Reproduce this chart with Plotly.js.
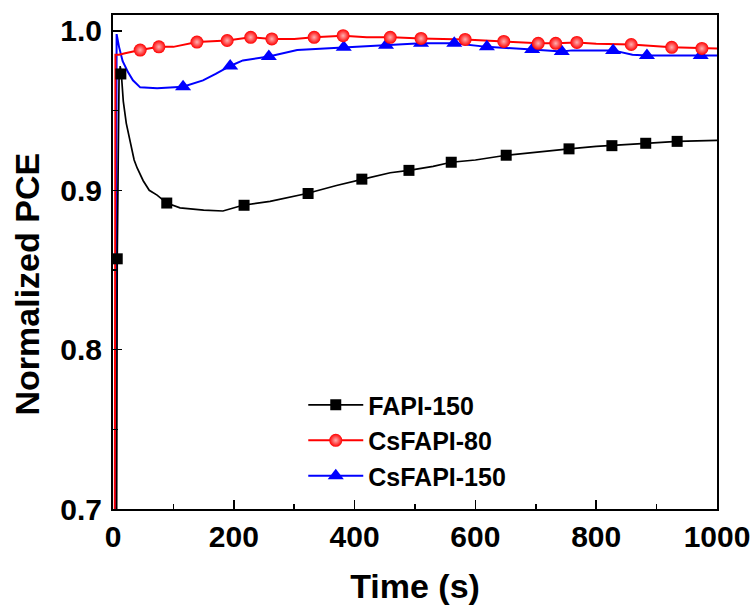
<!DOCTYPE html>
<html>
<head>
<meta charset="utf-8">
<script src="https://cdn.plot.ly/plotly-3.0.1.min.js"></script>
<style>html,body{margin:0;padding:0;background:#fff;}#chart{width:753px;height:607px;}</style>
</head>
<body>
<div id="chart"></div>
<script>
// ---- Data ----
var seriesNames = ["FAPI-150", "CsFAPI-80", "CsFAPI-150"];
var xTitle = "Time (s)";
var yTitle = "Normalized PCE";

// FAPI-150 (black) continuous curve
var fapiT = [6, 7, 10, 12, 14, 17, 22, 28, 35, 40, 50, 60, 73, 89, 111, 150, 182, 215, 260, 321, 370, 414, 459, 490, 530, 560, 600, 651, 700, 755, 800, 826, 882, 934, 1000];
var fapiV = [0.69, 0.857, 0.970, 0.978, 0.972, 0.956, 0.942, 0.931, 0.919, 0.914, 0.906, 0.900, 0.897, 0.892, 0.889, 0.8875, 0.887, 0.8906, 0.893, 0.898, 0.903, 0.907, 0.911, 0.9125, 0.915, 0.9176, 0.919, 0.922, 0.924, 0.926, 0.9275, 0.928, 0.9295, 0.9307, 0.9313];
// FAPI-150 symbols
var fapiMarkT = [7, 13, 89, 217, 323, 412, 490, 560, 651, 755, 826, 882, 934];
var fapiMarkV = [0.857, 0.973, 0.892, 0.8906, 0.898, 0.907, 0.9125, 0.9176, 0.922, 0.926, 0.928, 0.9295, 0.9307];

// CsFAPI-80 (red) continuous curve
var cs80T = [3, 4, 10, 20, 45, 76, 100, 139, 189, 228, 263, 300, 333, 381, 420, 462, 510, 583, 647, 704, 733, 768, 800, 858, 925, 975, 1000];
var cs80V = [0.69, 0.985, 0.985, 0.986, 0.988, 0.990, 0.990, 0.993, 0.994, 0.996, 0.995, 0.995, 0.996, 0.997, 0.996, 0.996, 0.9953, 0.9947, 0.9934, 0.9922, 0.9922, 0.9928, 0.992, 0.9915, 0.9897, 0.989, 0.989];
// CsFAPI-80 symbols
var cs80MarkT = [45, 76, 139, 189, 228, 263, 333, 381, 459, 510, 583, 647, 704, 733, 768, 858, 925, 975];
var cs80MarkV = [0.988, 0.990, 0.993, 0.994, 0.996, 0.995, 0.996, 0.997, 0.996, 0.9953, 0.9947, 0.9934, 0.9922, 0.9922, 0.9928, 0.9915, 0.9897, 0.989];

// CsFAPI-150 (blue) continuous curve
var cs150T = [4, 6, 10, 16, 25, 33, 45, 73, 116, 149, 170, 194, 215, 258, 305, 382, 452, 510, 565, 619, 694, 743, 760, 828, 860, 884, 973, 1000];
var cs150V = [0.69, 0.998, 0.990, 0.981, 0.974, 0.969, 0.9646, 0.964, 0.965, 0.969, 0.973, 0.978, 0.9815, 0.984, 0.988, 0.9897, 0.991, 0.9922, 0.9922, 0.990, 0.9884, 0.9871, 0.9878, 0.9878, 0.985, 0.9846, 0.9846, 0.9846];
// CsFAPI-150 symbols
var cs150MarkT = [116, 194, 258, 382, 452, 510, 565, 619, 694, 743, 828, 884, 973];
var cs150MarkV = [0.965, 0.978, 0.984, 0.9897, 0.991, 0.9922, 0.9922, 0.990, 0.9884, 0.9871, 0.9878, 0.9846, 0.9846];

var xTickVals = [0, 200, 400, 600, 800, 1000];
var yTickVals = [0.7, 0.8, 0.9, 1.0];

// ---- Styles ----
var FONT = "Liberation Sans, Arial, sans-serif";
var blackStyle = {line: {color: "#000000", width: 1.7}, marker: {symbol: "square", size: 11, color: "#000000"}};
var redStyle = {line: {color: "#ff0000", width: 2}, marker: {symbol: "circle", size: 13, color: "#ff0000", gradient: {type: "radial", color: "#ffb0b0"}}};
var blueStyle = {line: {color: "#0000ff", width: 2}, marker: {symbol: "triangle-up", size: 14, color: "#0000ff"}};

function lineTrace(x, y, st) {
  return {x: x, y: y, type: "scatter", mode: "lines", line: st.line, showlegend: false, hoverinfo: "skip"};
}
function markTrace(x, y, st) {
  return {x: x, y: y, type: "scatter", mode: "markers", marker: st.marker, showlegend: false, cliponaxis: true};
}
function legendTrace(name, st) {
  return {x: [null], y: [null], type: "scatter", mode: "lines+markers", name: name, line: st.line, marker: st.marker, showlegend: true};
}

var data = [
  lineTrace(cs150T, cs150V, blueStyle),
  lineTrace(cs80T, cs80V, redStyle),
  lineTrace(fapiT, fapiV, blackStyle),
  markTrace(fapiMarkT, fapiMarkV, blackStyle),
  markTrace(cs150MarkT, cs150MarkV, blueStyle),
  markTrace(cs80MarkT, cs80MarkV, redStyle),
  legendTrace(seriesNames[0], blackStyle),
  legendTrace(seriesNames[1], redStyle),
  legendTrace(seriesNames[2], blueStyle)
];

var layout = {
  width: 753,
  height: 607,
  margin: {l: 113, r: 36, t: 15, b: 98},
  paper_bgcolor: "#ffffff",
  plot_bgcolor: "#ffffff",
  font: {family: FONT, color: "#000000"},
  showlegend: true,
  legend: {
    x: 0.315, y: 0.257, xanchor: "left", yanchor: "top",
    bgcolor: "rgba(0,0,0,0)",
    font: {family: FONT, size: 25, color: "#000000", weight: "bold"},
    itemwidth: 55,
    tracegroupgap: 0
  },
  xaxis: {
    range: [0, 1000],
    tickvals: xTickVals,
    ticktext: xTickVals.map(String),
    ticks: "inside", ticklen: 9, tickwidth: 1.5, tickcolor: "#000",
    minor: {dtick: 100, ticks: "inside", ticklen: 5, tickwidth: 1.5, tickcolor: "#000", showgrid: false},
    showline: true, linewidth: 2, linecolor: "#000", mirror: true,
    showgrid: false, zeroline: false,
    tickfont: {family: FONT, size: 30, color: "#000", weight: "bold"},
    title: {text: xTitle, font: {family: FONT, size: 34, color: "#000", weight: "bold"}, standoff: 22}
  },
  yaxis: {
    range: [0.7, 1.01],
    tickvals: yTickVals,
    ticktext: yTickVals.map(function (v) { return v.toFixed(1); }),
    ticks: "inside", ticklen: 9, tickwidth: 1.5, tickcolor: "#000",
    minor: {dtick: 0.05, tick0: 0.7, ticks: "inside", ticklen: 5, tickwidth: 1.5, tickcolor: "#000", showgrid: false},
    showline: true, linewidth: 2, linecolor: "#000", mirror: true,
    showgrid: false, zeroline: false,
    ticklabelstandoff: 3,
    tickfont: {family: FONT, size: 30, color: "#000", weight: "bold"}
  },
  annotations: [{
    text: yTitle, xref: "paper", yref: "paper",
    x: -0.142, y: 0.455, xanchor: "center", yanchor: "middle",
    textangle: -90, showarrow: false,
    font: {family: FONT, size: 34, color: "#000", weight: "bold"}
  }]
};

Plotly.newPlot("chart", data, layout, {staticPlot: true, displayModeBar: false});
</script>
</body>
</html>
